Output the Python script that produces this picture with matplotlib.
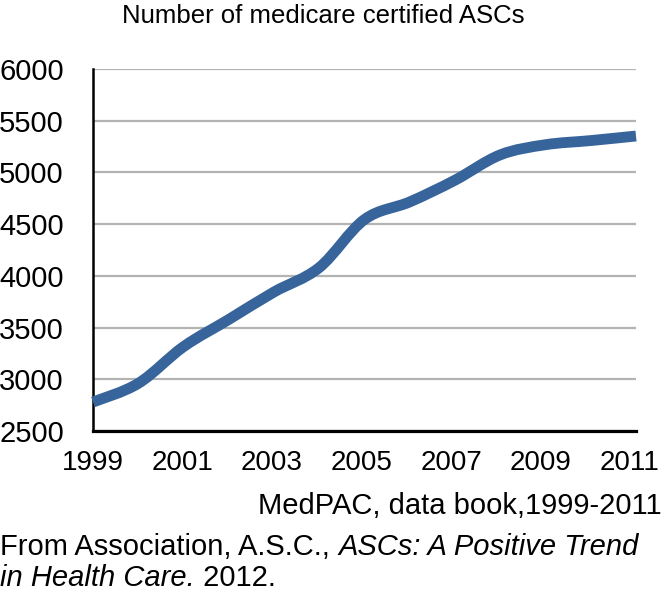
import matplotlib
matplotlib.use("Agg")
import matplotlib.pyplot as plt
from matplotlib.path import Path
from matplotlib.patches import PathPatch
from matplotlib.transforms import ScaledTranslation
import numpy as np

years = [1999, 2000, 2001, 2002, 2003, 2004, 2005, 2006, 2007, 2008, 2009, 2010, 2011]
ascs = [2780, 2960, 3315, 3578, 3844, 4080, 4545, 4715, 4925, 5170, 5268, 5308, 5352]
yticks = [2500, 3000, 3500, 4000, 4500, 5000, 5500, 6000]
xticks = [1999, 2001, 2003, 2005, 2007, 2009, 2011]

title = "Number of medicare certified ASCs"
source = "MedPAC, data book,1999-2011"

plt.rcParams['font.family'] = ['Liberation Sans', 'DejaVu Sans']

fig = plt.figure(figsize=(6.64, 5.92), dpi=100)
ax = fig.add_axes([93/664, 1-431/592, (636-93)/664, (431-69)/592])

# smoothed line (Catmull-Rom -> cubic Bezier), like a spreadsheet "smoothed line"
x = np.array(years, dtype=float)
y = np.array(ascs, dtype=float)
verts = [(x[0], y[0])]
codes = [Path.MOVETO]
n = len(x)
for i in range(n - 1):
    x0, y0 = (x[i-1], y[i-1]) if i > 0 else (x[i], y[i])
    x3, y3 = (x[i+2], y[i+2]) if i + 2 < n else (x[i+1], y[i+1])
    x1, y1 = x[i], y[i]
    x2, y2 = x[i+1], y[i+1]
    c1 = (x1 + (x2 - x0) / 6, y1 + (y2 - y0) / 6)
    c2 = (x2 - (x3 - x1) / 6, y2 - (y3 - y1) / 6)
    verts += [c1, c2, (x2, y2)]
    codes += [Path.CURVE4] * 3
patch = PathPatch(Path(verts, codes), facecolor='none', edgecolor='#37649a',
                  lw=7.8, capstyle='butt', joinstyle='round', clip_on=False, zorder=3)
ax.add_patch(patch)

ax.set_xlim(1999, 2011)
ax.set_ylim(2500, 6000)
ax.set_yticks(yticks)
ax.set_xticks(xticks)
ax.yaxis.grid(True, color='#b3b3b3', lw=1.6)
ax.set_axisbelow(True)
ax.tick_params(length=0)
ax.tick_params(axis='y', labelsize=21, pad=21)
ax.tick_params(axis='x', labelsize=20, pad=14)
for i, lab in enumerate(ax.get_xticklabels()):
    lab.set_transform(lab.get_transform() + ScaledTranslation(-i / 100, 0, fig.dpi_scale_trans))
for s in ['top', 'right']:
    ax.spines[s].set_visible(False)
ax.spines['left'].set_linewidth(1.8)
ax.spines['bottom'].set_linewidth(2.3)
ax.spines['left'].set_color('black')
ax.spines['bottom'].set_color('black')

fig.text(323/664, 1-16/592, title, ha='center', va='center', fontsize=18.5)
fig.text(662/664, 1-514/592, source, ha='right', va='baseline', fontsize=21)

t1 = fig.text(0/664, 1-555/592, "From Association, A.S.C., ", ha='left', va='baseline', fontsize=21)
ax.annotate("ASCs: A Positive Trend", xy=(1, 0), xycoords=t1, ha='left', va='bottom',
            fontsize=21, style='italic', annotation_clip=False)
t3 = fig.text(0/664, 1-586/592, "in Health Care.", ha='left', va='baseline', fontsize=21, style='italic')
ax.annotate(" 2012.", xy=(1, 0), xycoords=t3, ha='left', va='bottom', fontsize=21,
            annotation_clip=False)

fig.savefig("out.png", dpi=100)
